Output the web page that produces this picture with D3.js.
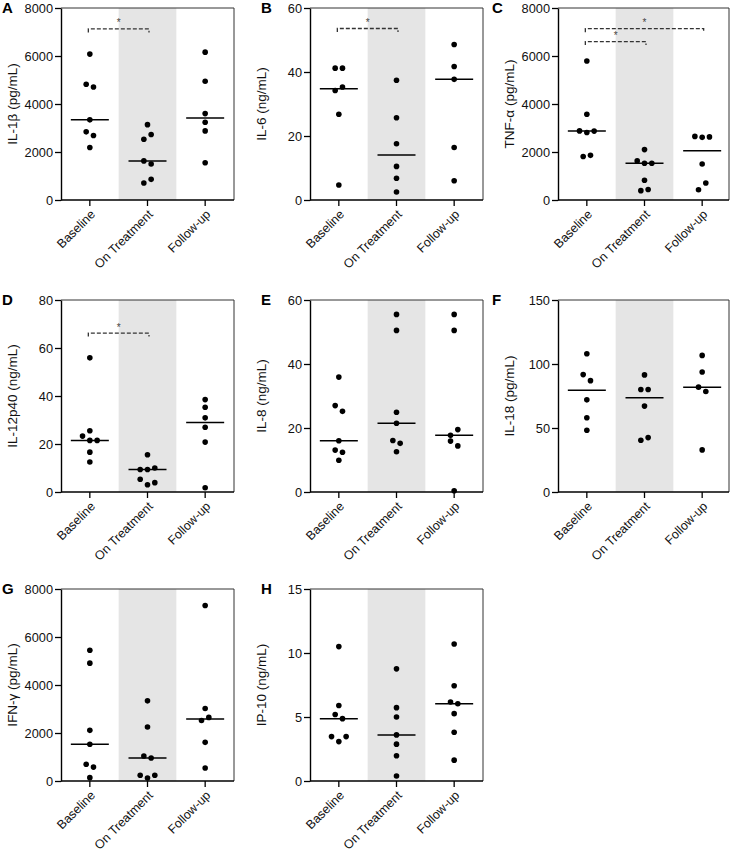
<!DOCTYPE html>
<html><head><meta charset="utf-8">
<script src="https://cdn.jsdelivr.net/npm/d3@7"></script>
<style>
body{margin:0;background:#fff;}
svg{display:block;font-family:"Liberation Sans",Arial,Helvetica,sans-serif;}
</style>
</head><body>
<svg id="chart" width="733" height="854"></svg>
<script>
// ---------- data ----------
const groups = ["Baseline", "On Treatment", "Follow-up"];
const panelLetters = ["A", "B", "C", "D", "E", "F", "G", "H"];
const yLabels = ["IL-1β (pg/mL)", "IL-6 (ng/mL)", "TNF-α (pg/mL)", "IL-12p40 (ng/mL)",
                 "IL-8 (ng/mL)", "IL-18 (pg/mL)", "IFN-γ (pg/mL)", "IP-10 (ng/mL)"];
const yMax = [8000, 60, 8000, 80, 60, 150, 8000, 15];
const yTicks = [
  [0, 2000, 4000, 6000, 8000],
  [0, 20, 40, 60],
  [0, 2000, 4000, 6000, 8000],
  [0, 20, 40, 60, 80],
  [0, 20, 40, 60],
  [0, 50, 100, 150],
  [0, 2000, 4000, 6000, 8000],
  [0, 5, 10, 15]
];
// values per group: [Baseline, On Treatment, Follow-up]
const il1b = [
  [6080, 4820, 4710, 3340, 2840, 2690, 2190],
  [3140, 2530, 2730, 1630, 1500, 710, 860],
  [6160, 4950, 3600, 3240, 2880, 1550]
];
const il6 = [
  [41.2, 41.2, 34.2, 35.3, 26.8, 4.7],
  [37.4, 25.7, 17.6, 10.5, 6.8, 2.5],
  [48.6, 41.7, 37.7, 16.4, 6.0]
];
const tnfa = [
  [5790, 3570, 2880, 2810, 2870, 1810, 1860],
  [2100, 1630, 1530, 1530, 820, 390, 440],
  [2650, 2610, 2630, 1500, 430, 710]
];
const il12p40 = [
  [55.9, 25.5, 23.3, 21.5, 21.5, 16.6, 12.5],
  [15.5, 9.4, 9.4, 10.0, 5.3, 3.0, 3.9],
  [38.5, 35.3, 30.9, 27.0, 20.8, 1.8]
];
const il8 = [
  [35.9, 27.0, 25.2, 16.0, 13.1, 12.4, 9.9],
  [55.5, 50.5, 24.9, 21.5, 16.1, 15.2, 12.6],
  [55.5, 50.5, 17.7, 19.5, 15.9, 14.4, 0.4]
];
const il18 = [
  [108.0, 91.7, 87.0, 72.0, 58.0, 48.2],
  [91.5, 80.1, 80.1, 67.1, 40.4, 42.5],
  [106.7, 93.8, 81.9, 78.5, 32.9]
];
const ifng = [
  [5450, 4910, 2110, 1530, 700, 580, 140],
  [3340, 2250, 1040, 960, 240, 125, 240],
  [7310, 3020, 2520, 2650, 1610, 540]
];
const ip10 = [
  [10.5, 5.9, 5.2, 4.87, 3.47, 3.08, 3.47],
  [8.76, 5.0, 5.73, 3.6, 2.88, 1.97, 0.39],
  [10.7, 7.44, 6.17, 6.04, 5.26, 3.81, 1.63]
];
const panelData = [il1b, il6, tnfa, il12p40, il8, il18, ifng, ip10];
// significance brackets (panel index, group a, group b, level in data units)
const sigPanels = [0, 1, 2, 2, 3];
const sigFrom = [0, 0, 0, 0, 0];
const sigTo = [1, 1, 1, 2, 1];
const sigLevel = [7130, 53.6, 6600, 7140, 66.2];

// ---------- layout ----------
const svg = d3.select("#chart");
const colAxisX = [61, 310, 558];
const colLeft = [0, 245, 490];
const frameW = [173, 173, 171];
const rowTop = [8, 300, 589];
const plotW = 173, plotH = 192;
const THRESH = 7.4, SPACING = 7.3;

function swarm(values, y) {
  const pts = values.map((v, i) => ({ v, i, py: y(v), dx: 0 }));
  const sorted = pts.slice().sort((a, b) => a.v - b.v || a.i - b.i);
  const gs = [];
  let cur = null;
  for (const p of sorted) {
    if (cur && Math.abs(p.py - cur.start) < THRESH) cur.items.push(p);
    else { cur = { start: p.py, items: [p] }; gs.push(cur); }
  }
  gs.forEach(g => {
    g.items.sort((a, b) => a.i - b.i);
    const n = g.items.length;
    g.items.forEach((p, k) => { p.dx = (k - (n - 1) / 2) * SPACING; });
  });
  return pts;
}

panelData.forEach((data, pi) => {
  const col = pi % 3, row = Math.floor(pi / 3);
  const g = svg.append("g").attr("transform", `translate(${colAxisX[col]},${rowTop[row]})`);
  const x = d3.scaleBand().domain(groups).range([0, plotW]).padding(0);
  const y = d3.scaleLinear().domain([0, yMax[pi]]).range([plotH, 0]);
  const fw = frameW[col];

  // shaded middle band
  g.append("rect")
    .attr("x", x(groups[1])).attr("y", 0)
    .attr("width", x.bandwidth()).attr("height", plotH)
    .attr("fill", "#e5e5e5");

  // frame top & right
  g.append("path")
    .attr("d", `M0,0H${fw}V${plotH}`)
    .attr("fill", "none").attr("stroke", "#333").attr("stroke-width", 1);

  // y axis
  const ya = g.append("g").call(
    d3.axisLeft(y).tickValues(yTicks[pi]).tickSize(6).tickPadding(2)
      .tickSizeOuter(0).tickFormat(d3.format("d")));
  ya.select(".domain").attr("stroke", "#000").attr("stroke-width", 1.4);
  ya.selectAll(".tick line").attr("stroke", "#000").attr("stroke-width", 1.3);
  ya.selectAll(".tick text").attr("font-size", 12.8).attr("fill", "#111")
    .attr("font-family", '"Liberation Sans",Arial,sans-serif');

  // x axis
  const xa = g.append("g").attr("transform", `translate(0,${plotH})`).call(
    d3.axisBottom(x).tickSize(6).tickSizeOuter(0));
  xa.select(".domain").attr("d", `M0,0H${fw}`).attr("stroke", "#000").attr("stroke-width", 1.4);
  xa.selectAll(".tick line").attr("stroke", "#000").attr("stroke-width", 1.3);
  xa.selectAll(".tick text")
    .attr("font-size", 12.5).attr("fill", "#111")
    .attr("font-family", '"Liberation Sans",Arial,sans-serif')
    .attr("text-anchor", "end")
    .attr("x", 0).attr("y", 0).attr("dy", "0.35em")
    .attr("transform", "translate(3,12) rotate(-45)");

  // y label
  g.append("text")
    .attr("transform", `translate(-44,${plotH / 2}) rotate(-90)`)
    .attr("text-anchor", "middle")
    .attr("font-size", 13.5).attr("fill", "#111")
    .text(yLabels[pi]);

  // panel letter
  svg.append("text")
    .attr("x", colLeft[col] + [2, 16, 2][col])
    .attr("y", rowTop[row] + 4.5)
    .attr("font-size", 15).attr("font-weight", "bold").attr("fill", "#000")
    .text(panelLetters[pi]);

  // points and medians
  groups.forEach((grp, gi) => {
    const vals = data[gi];
    const cx = x(grp) + x.bandwidth() / 2;
    const pts = swarm(vals, y);
    g.selectAll(null).data(pts).enter().append("circle")
      .attr("cx", d => cx + d.dx).attr("cy", d => d.py)
      .attr("r", 2.8).attr("fill", "#000");
    const med = d3.median(vals);
    g.append("line")
      .attr("x1", cx - 19).attr("x2", cx + 19)
      .attr("y1", y(med)).attr("y2", y(med))
      .attr("stroke", "#000").attr("stroke-width", 1.5);
  });

  // significance brackets
  sigPanels.forEach((sp, si) => {
    if (sp !== pi) return;
    const xa1 = x(groups[sigFrom[si]]) + x.bandwidth() / 2 - 1.5;
    const xa2 = x(groups[sigTo[si]]) + x.bandwidth() / 2 + 1.5;
    const yy = y(sigLevel[si]);
    g.append("path")
      .attr("d", `M${xa1},${yy + 3.5}V${yy}H${xa2}V${yy + 3.5}`)
      .attr("fill", "none").attr("stroke", "#333").attr("stroke-width", 1.3)
      .attr("stroke-dasharray", "4,2");
    g.append("text")
      .attr("x", (xa1 + xa2) / 2).attr("y", yy - 2.5)
      .attr("text-anchor", "middle").attr("font-size", 10).attr("fill", "#444")
      .text("*");
  });
});
</script>
</body></html>
